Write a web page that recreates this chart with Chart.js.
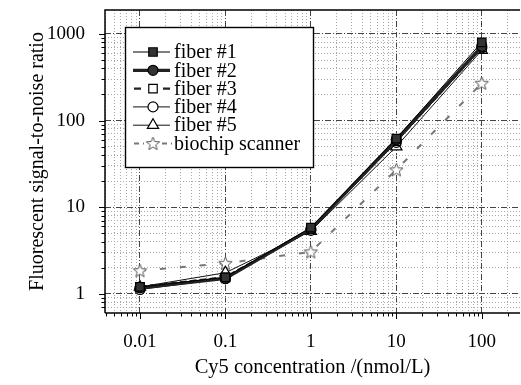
<!DOCTYPE html>
<html><head><meta charset="utf-8">
<script src="https://cdn.jsdelivr.net/npm/chart.js@4"></script>
<style>html,body{margin:0;padding:0;background:#fff}#wrap{width:521px;height:385px}</style>
</head><body><div id="wrap"><canvas id="c" width="521" height="385"></canvas></div>
<script>
// ---- data ----
const concentrations = [0.01, 0.1, 1, 10, 100];
const fiber1 = [1.2, 1.55, 5.8, 62, 800];
const fiber2 = [1.17, 1.5, 5.6, 60, 720];
const fiber3 = [1.2, 1.55, 5.6, 58, 700];
const fiber4 = [1.12, 1.5, 5.4, 56, 690];
const fiber5 = [1.2, 1.75, 5.3, 50, 650];
const scanner = [1.85, 2.25, 3.05, 27, 270];
const seriesLabels = ['fiber #1', 'fiber #2', 'fiber #3', 'fiber #4', 'fiber #5', 'biochip scanner'];
const xTickLabels = ['0.01', '0.1', '1', '10', '100'];
const yTickLabels = ['1', '10', '100', '1000'];
const xTitle = 'Cy5 concentration /(nmol/L)';
const yTitle = 'Fluorescent signal-to-noise ratio';

const FONT = "'Liberation Serif', 'Times New Roman', serif";
const X_MIN = 0.0039, X_MAX = 280, Y_MIN = 0.62, Y_MAX = 1890;

function minorTicks(min, max) {
  const out = [];
  for (let e = Math.floor(Math.log10(min)); e <= Math.ceil(Math.log10(max)); e++) {
    for (let m = 1; m <= 9; m++) {
      const v = m * Math.pow(10, e);
      if (v >= min && v <= max) out.push(v);
    }
  }
  return out;
}
const isDecade = v => Math.abs(Math.log10(v) - Math.round(Math.log10(v))) < 1e-9;
const findLabel = (labels, v) => labels.find(l => Math.abs(Number(l) - v) / v < 1e-6) || '';

// star marker image
function makeStar() {
  const c = document.createElement('canvas');
  c.width = 17; c.height = 17;
  const g = c.getContext('2d');
  g.beginPath();
  for (let i = 0; i < 10; i++) {
    const r = i % 2 === 0 ? 7 : 3;
    const a = -Math.PI / 2 + i * Math.PI / 5;
    const px = 8.5 + r * Math.cos(a), py = 9 + r * Math.sin(a);
    i === 0 ? g.moveTo(px, py) : g.lineTo(px, py);
  }
  g.closePath();
  g.fillStyle = '#fff'; g.fill();
  g.strokeStyle = '#555'; g.lineWidth = 1; g.stroke();
  return c;
}
const starImg = makeStar();

const seriesValues = [fiber1, fiber2, fiber3, fiber4, fiber5, scanner];
const styles = [
  {borderColor: '#000', borderWidth: 1, borderDash: [], pointStyle: 'rect', pointRadius: 6, pointBackgroundColor: '#333', pointBorderColor: '#000'},
  {borderColor: '#222', borderWidth: 3.2, borderDash: [], pointStyle: 'circle', pointRadius: 5, pointBackgroundColor: '#333', pointBorderColor: '#000'},
  {borderColor: '#222', borderWidth: 2.4, borderDash: [7, 3], pointStyle: 'rect', pointRadius: 6, pointBackgroundColor: '#fff', pointBorderColor: '#000'},
  {borderColor: '#111', borderWidth: 1, borderDash: [], pointStyle: 'circle', pointRadius: 5, pointBackgroundColor: '#fff', pointBorderColor: '#000'},
  {borderColor: '#111', borderWidth: 1, borderDash: [], pointStyle: 'triangle', pointRadius: 6.5, pointBackgroundColor: '#fff', pointBorderColor: '#000'},
  {borderColor: '#777', borderWidth: 2, borderDash: [6, 14], pointStyle: starImg, pointRadius: 7, pointBackgroundColor: '#fff', pointBorderColor: '#555'}
];

const datasets = seriesLabels.map((label, i) => Object.assign({
  label,
  data: concentrations.map((x, j) => ({x, y: seriesValues[i][j]})),
  tension: 0,
  fill: false,
  pointBorderWidth: 1.2
}, styles[i]));

const xTicks = minorTicks(X_MIN, X_MAX);
const yTicks = minorTicks(Y_MIN, Y_MAX);

function drawMarker(ctx, st, x, y) {
  const r = st.pointRadius;
  ctx.save();
  ctx.fillStyle = st.pointBackgroundColor;
  ctx.strokeStyle = st.pointBorderColor;
  ctx.lineWidth = 1.2;
  ctx.setLineDash([]);
  if (st.pointStyle === 'rect') {
    const s = r * Math.SQRT1_2;
    ctx.beginPath(); ctx.rect(x - s, y - s, 2 * s, 2 * s); ctx.fill(); ctx.stroke();
  } else if (st.pointStyle === 'circle') {
    ctx.beginPath(); ctx.arc(x, y, r, 0, Math.PI * 2); ctx.fill(); ctx.stroke();
  } else if (st.pointStyle === 'triangle') {
    ctx.beginPath();
    ctx.moveTo(x, y - r);
    ctx.lineTo(x + r * Math.cos(Math.PI / 6), y + r / 2);
    ctx.lineTo(x - r * Math.cos(Math.PI / 6), y + r / 2);
    ctx.closePath(); ctx.fill(); ctx.stroke();
  } else {
    ctx.drawImage(st.pointStyle, x - st.pointStyle.width / 2, y - st.pointStyle.height / 2);
  }
  ctx.restore();
}

const framePlugin = {
  id: 'frame',
  afterDraw(chart) {
    const {ctx, chartArea: a, scales} = chart;
    ctx.save();
    ctx.strokeStyle = '#000';
    ctx.lineWidth = 1.5;
    ctx.beginPath();
    ctx.moveTo(a.left, a.bottom); ctx.lineTo(a.left, a.top); ctx.lineTo(a.right, a.top);
    ctx.moveTo(a.left, a.bottom); ctx.lineTo(a.right, a.bottom);
    ctx.stroke();
    ctx.lineWidth = 1;
    ctx.beginPath();
    xTicks.forEach(v => {
      const px = Math.round(scales.x.getPixelForValue(v)) + 0.5;
      const len = isDecade(v) ? 6 : 3.5;
      ctx.moveTo(px, a.bottom); ctx.lineTo(px, a.bottom + len);
    });
    yTicks.forEach(v => {
      const py = Math.round(scales.y.getPixelForValue(v)) + 0.5;
      const len = isDecade(v) ? 6 : 3.5;
      ctx.moveTo(a.left, py); ctx.lineTo(a.left - len, py);
    });
    ctx.stroke();

    // legend box
    const bx = 125, by = 27, bw = 188, bh = 140;
    ctx.fillStyle = '#fff';
    ctx.fillRect(bx, by, bw, bh);
    ctx.strokeStyle = '#000';
    ctx.lineWidth = 1.4;
    ctx.strokeRect(bx + 0.5, by + 0.5, bw, bh);
    ctx.font = '20px ' + FONT;
    ctx.textBaseline = 'middle';
    ctx.textAlign = 'left';
    chart.data.datasets.forEach((ds, i) => {
      const st = styles[i];
      const cy = 52 + i * 18.3;
      ctx.save();
      ctx.strokeStyle = st.borderColor;
      ctx.lineWidth = st.borderWidth;
      ctx.setLineDash(i === 5 ? [5, 4] : st.borderDash);
      ctx.beginPath();
      if (i === 2) {
        ctx.moveTo(134, cy); ctx.lineTo(142, cy);
        ctx.moveTo(163, cy); ctx.lineTo(170, cy);
      } else if (i === 5) {
        ctx.moveTo(134, cy); ctx.lineTo(144, cy);
        ctx.moveTo(162, cy); ctx.lineTo(172, cy);
      } else {
        ctx.moveTo(133, cy); ctx.lineTo(170, cy);
      }
      ctx.stroke();
      ctx.restore();
      drawMarker(ctx, st, 153, cy);
      ctx.fillStyle = '#000';
      ctx.fillText(ds.label, 174, cy + 1);
    });
    ctx.restore();
  }
};

function noPad(s) { s.paddingTop = 0; s.paddingBottom = 0; s.paddingLeft = 0; s.paddingRight = 0; }

new Chart(document.getElementById('c'), {
  type: 'line',
  data: {datasets},
  plugins: [framePlugin],
  options: {
    responsive: false,
    animation: false,
    devicePixelRatio: 1,
    layout: {autoPadding: false, padding: {top: 10, right: 1, left: 0, bottom: 0}},
    plugins: {legend: {display: false}, tooltip: {enabled: false}},
    scales: {
      x: {
        type: 'logarithmic', min: X_MIN, max: X_MAX,
        afterBuildTicks: s => { s.ticks = xTicks.map(v => ({value: v, major: isDecade(v)})); },
        afterFit: s => { s.height = 72; noPad(s); },
        ticks: {
          autoSkip: false, maxRotation: 0, minRotation: 0, padding: 18, color: '#000',
          font: {family: FONT, size: 19},
          callback: v => findLabel(xTickLabels, v)
        },
        grid: {
          drawTicks: false,
          color: c => isDecade(c.tick.value) ? '#444' : '#a8a8a8',
          lineWidth: 1
        },
        border: {display: false, dash: c => (c.tick && isDecade(c.tick.value)) ? [6, 2, 1, 2] : [1, 2]},
        title: {display: true, text: xTitle, color: '#000', font: {family: FONT, size: 20.5}, padding: {top: 0, bottom: 5}}
      },
      y: {
        type: 'logarithmic', min: Y_MIN, max: Y_MAX,
        afterBuildTicks: s => { s.ticks = yTicks.map(v => ({value: v, major: isDecade(v)})); },
        afterFit: s => { s.width = 105; noPad(s); },
        ticks: {
          autoSkip: false, padding: 20, color: '#000',
          font: {family: FONT, size: 19},
          callback: v => findLabel(yTickLabels, v)
        },
        grid: {
          drawTicks: false,
          color: c => isDecade(c.tick.value) ? '#444' : '#a8a8a8',
          lineWidth: 1
        },
        border: {display: false, dash: c => (c.tick && isDecade(c.tick.value)) ? [6, 2, 1, 2] : [1, 2]},
        title: {display: true, text: yTitle, color: '#000', font: {family: FONT, size: 20}, padding: {top: 26, bottom: 0}}
      }
    }
  }
});
</script>
</body></html>
